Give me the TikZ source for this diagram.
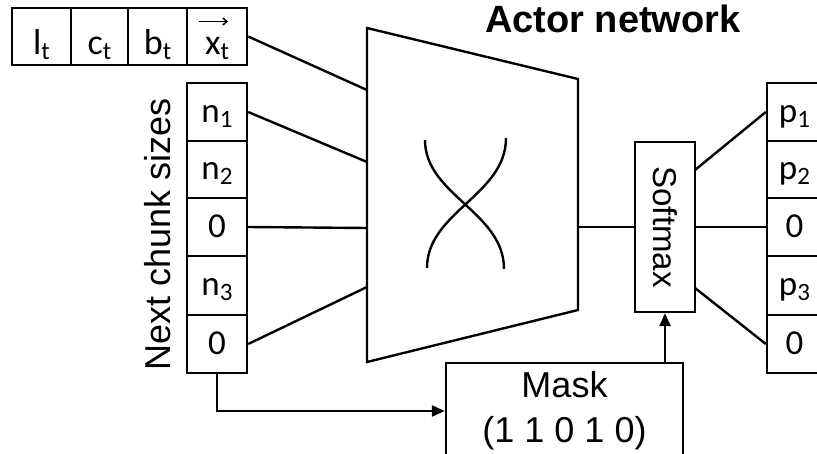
\documentclass[tikz,border=0pt]{standalone}
\usepackage{fontspec}
\setmainfont{Liberation Sans}
\newfontfamily\cellfont{Carlito}
\usetikzlibrary{arrows.meta}
\newcommand\lsub[1]{\raisebox{-5pt}{\fontsize{25}{25}\selectfont #1}}
\tikzset{
  line/.style={line width=2.4pt},
  cell/.style={draw, line width=2.4pt, inner sep=0pt,
    font=\cellfont\fontsize{35}{35}\selectfont, text height=21pt, text depth=0pt},
  topcell/.style={cell, font=\cellfont\fontsize{36}{36}\selectfont, text height=37pt, minimum height=57pt},
  colcell/.style={cell, minimum width=60pt},
  rcell/.style={cell, minimum width=55pt},
  arr/.style={line width=2.4pt, -{Triangle[length=13pt,width=11pt]}}
}
\begin{document}
\begin{tikzpicture}[x=1pt,y=-1pt]
\useasboundingbox (0,0) rectangle (817,454);
\clip (0,0) rectangle (817,454);

% title
\node[anchor=base west, inner sep=0pt, font=\bfseries\fontsize{38}{38}\selectfont] (title) at (485,33) {Actor network};

% top row
\node[topcell, minimum width=59pt] (lt) at (41.5,36.5) {l\lsub{t}};
\node[topcell, minimum width=57pt] (ct) at (99.5,36.5) {c\lsub{t}};
\node[topcell, minimum width=59pt] (bt) at (157.5,36.5) {b\lsub{t}};
\node[topcell, minimum width=60pt] (xt) at (217,36.5) {x\lsub{t}};
\draw[line width=1.5pt, -{Straight Barb[length=4pt,width=7pt]}] ([shift={(-18,-15)}]xt.center) -- ++(29,0);

% left column
\node[colcell, minimum height=58pt] (n1) at (217,112) {n\lsub{1}};
\node[colcell, minimum height=57pt] (n2) at (217,169.5) {n\lsub{2}};
\node[colcell, minimum height=58pt] (za) at (217,227) {0};
\node[colcell, minimum height=59pt] (n3) at (217,285.5) {n\lsub{3}};
\node[colcell, minimum height=58pt] (zb) at (217,344) {0};
\node[rotate=90, anchor=base, inner sep=0pt, font=\fontsize{36}{36}\selectfont] (lab) at (170,234) {Next chunk sizes};

% actor network trapezoid
\coordinate (ta) at (367,28);
\coordinate (tb) at (578,79);
\coordinate (tc) at (578,310);
\coordinate (td) at (367,362);
\draw[line] (ta) -- (tb) -- (tc) -- (td) -- cycle;
\coordinate (i1) at (367,90);
\coordinate (i2) at (367,162);
\coordinate (i3) at (367,228);
\coordinate (i4) at (367,287);
\coordinate (o1) at (578,227);
\draw[line] (425,140) .. controls (425,195) and (504,212) .. (504,269);
\draw[line] (506,138) .. controls (506,195) and (427,212) .. (427,268);

% inputs
\draw[line] (xt.east) -- (i1);
\draw[line] (n1.east) -- (i2);
\draw[line] (za.east) -- (i3);
\draw[line] (zb.east) -- (i4);

% softmax
\node[draw, line width=2.4pt, minimum width=60pt, minimum height=170pt, inner sep=0pt] (sm) at (665,227)
  {\rotatebox{-90}{\fontsize{33}{33}\selectfont Softmax}};
\draw[line] (o1) -- (sm.west);
\coordinate (s1) at (695,170);
\coordinate (s3) at (695,288);

% right column
\node[rcell, minimum height=58pt] (p1) at (794.5,112) {p\lsub{1}};
\node[rcell, minimum height=57pt] (p2) at (794.5,169.5) {p\lsub{2}};
\node[rcell, minimum height=58pt] (ra) at (794.5,227) {0};
\node[rcell, minimum height=59pt] (p3) at (794.5,285.5) {p\lsub{3}};
\node[rcell, minimum height=58pt] (rb) at (794.5,344) {0};
\draw[line] (s1) -- (p1.west);
\draw[line] (sm.east) -- (ra.west);
\draw[line] (s3) -- (rb.west);

% mask
\node[draw, line width=2.4pt, minimum width=237pt, minimum height=96pt, inner sep=0pt, align=center,
  font=\fontsize{36}{45}\selectfont] (mask) at (564.5,411) {Mask\\(1 1 0 1 0)};
\draw[arr] (zb.south) |- (mask.west);
\draw[arr] (mask.north -| sm.south) -- (sm.south);
\end{tikzpicture}
\end{document}
